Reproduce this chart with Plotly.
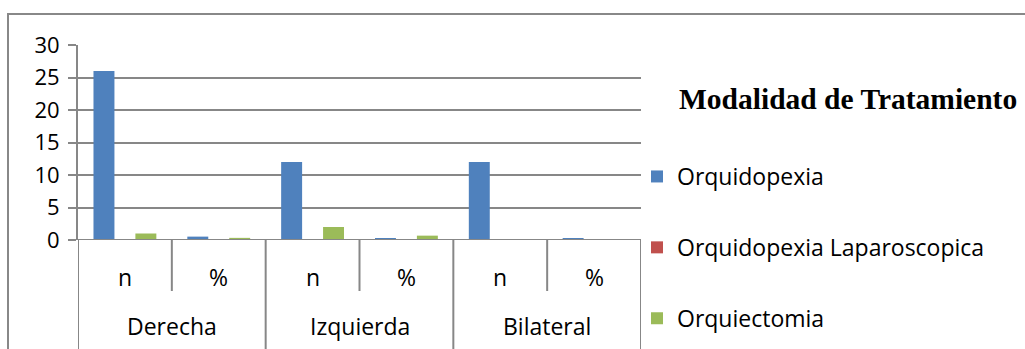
import plotly.graph_objects as go

# ---- data ----
groups = ["Derecha", "Izquierda", "Bilateral"]
measures = ["n", "%"]
series_names = ["Orquidopexia", "Orquidopexia Laparoscopica", "Orquiectomia"]
orquidopexia = [26, 0.52, 12, 0.24, 12, 0.24]
orquidopexia_lap = [0, 0, 0, 0, 0, 0]
orquiectomia = [1, 0.33, 2, 0.67, 0, 0]
y_ticks = [0, 5, 10, 15, 20, 25, 30]
legend_title = "Modalidad de Tratamiento"

colors = ["#4F81BD", "#C0504D", "#9BBB59"]
values = [orquidopexia, orquidopexia_lap, orquiectomia]

cats = [(g, m) for g in groups for m in measures]
xpos = list(range(len(cats)))

W, H = 1025, 349
L, R, T, B = 78, 1025 - 641, 45, 349 - 240
pw, ph = W - L - R, H - T - B

def px_to_paper_x(px):
    return (px - L) / pw

def px_to_paper_y(py):
    return (H - B - py) / ph

FONT = "Open Sans"
GRID = "#878787"

fig = go.Figure()
for name, vals, c in zip(series_names, values, colors):
    fig.add_trace(go.Bar(x=xpos, y=vals, name=name, marker=dict(color=c, line=dict(width=0)),
                         legendgroup=name))

shapes = []
annotations = []
# category separators
n_per = len(measures)
for i in range(len(cats) + 1):
    xb = i - 0.5
    long = (i % n_per == 0)
    shapes.append(dict(type="line", xref="x", yref="paper", x0=xb, x1=xb,
                       y0=0, y1=px_to_paper_y(350 if long else 291),
                       line=dict(color=GRID, width=2)))
# sub labels
for i, (g, m) in enumerate(cats):
    annotations.append(dict(x=i, y=px_to_paper_y(277), xref="x", yref="paper", text=m,
                            showarrow=False, font=dict(family=FONT, size=23, color="black"),
                            xanchor="center", yanchor="middle"))
# group labels
for gi, g in enumerate(groups):
    annotations.append(dict(x=gi * n_per + (n_per - 1) / 2, y=px_to_paper_y(326), xref="x", yref="paper",
                            text=g, showarrow=False, font=dict(family=FONT, size=23, color="black"),
                            xanchor="center", yanchor="middle"))
# legend title
annotations.append(dict(x=px_to_paper_x(677), y=px_to_paper_y(99), xref="paper", yref="paper",
                        text="<b>" + legend_title + "</b>", showarrow=False,
                        font=dict(family="Liberation Serif", size=29.5, color="black"),
                        xanchor="left", yanchor="middle"))
# outer border
shapes.append(dict(type="rect", xref="paper", yref="paper",
                   x0=px_to_paper_x(8), x1=px_to_paper_x(1040),
                   y0=px_to_paper_y(360), y1=px_to_paper_y(14),
                   line=dict(color="#888888", width=2), fillcolor="rgba(0,0,0,0)"))
# baseline
shapes.append(dict(type="line", xref="paper", yref="y", x0=0, x1=1, y0=0, y1=0,
                   line=dict(color=GRID, width=2)))

fig.update_layout(
    width=W, height=H,
    margin=dict(l=L, r=R, t=T, b=B, pad=0, autoexpand=False),
    paper_bgcolor="white", plot_bgcolor="white",
    barmode="group", bargap=0.33, bargroupgap=0,
    shapes=shapes, annotations=annotations,
    showlegend=True,
    legend=dict(x=px_to_paper_x(637), xanchor="left", y=px_to_paper_y(155), yanchor="top",
                font=dict(family=FONT, size=23, color="black"), tracegroupgap=38,
                bgcolor="rgba(0,0,0,0)", traceorder="grouped", maxheight=500),
    xaxis=dict(range=[-0.5, len(cats) - 0.5], showticklabels=False, showgrid=False,
               zeroline=False, showline=False, ticks=""),
    yaxis=dict(range=[0, 30], tickvals=y_ticks, ticktext=[str(v) for v in y_ticks],
               showgrid=True, gridcolor=GRID, gridwidth=1.5,
               ticks="outside", ticklen=8, tickcolor=GRID, tickwidth=1.5,
               showline=True, linecolor=GRID, linewidth=2, zeroline=False,
               tickfont=dict(family=FONT, size=22, color="black"), ticklabelstandoff=4),
)

fig.write_html("out.html")
